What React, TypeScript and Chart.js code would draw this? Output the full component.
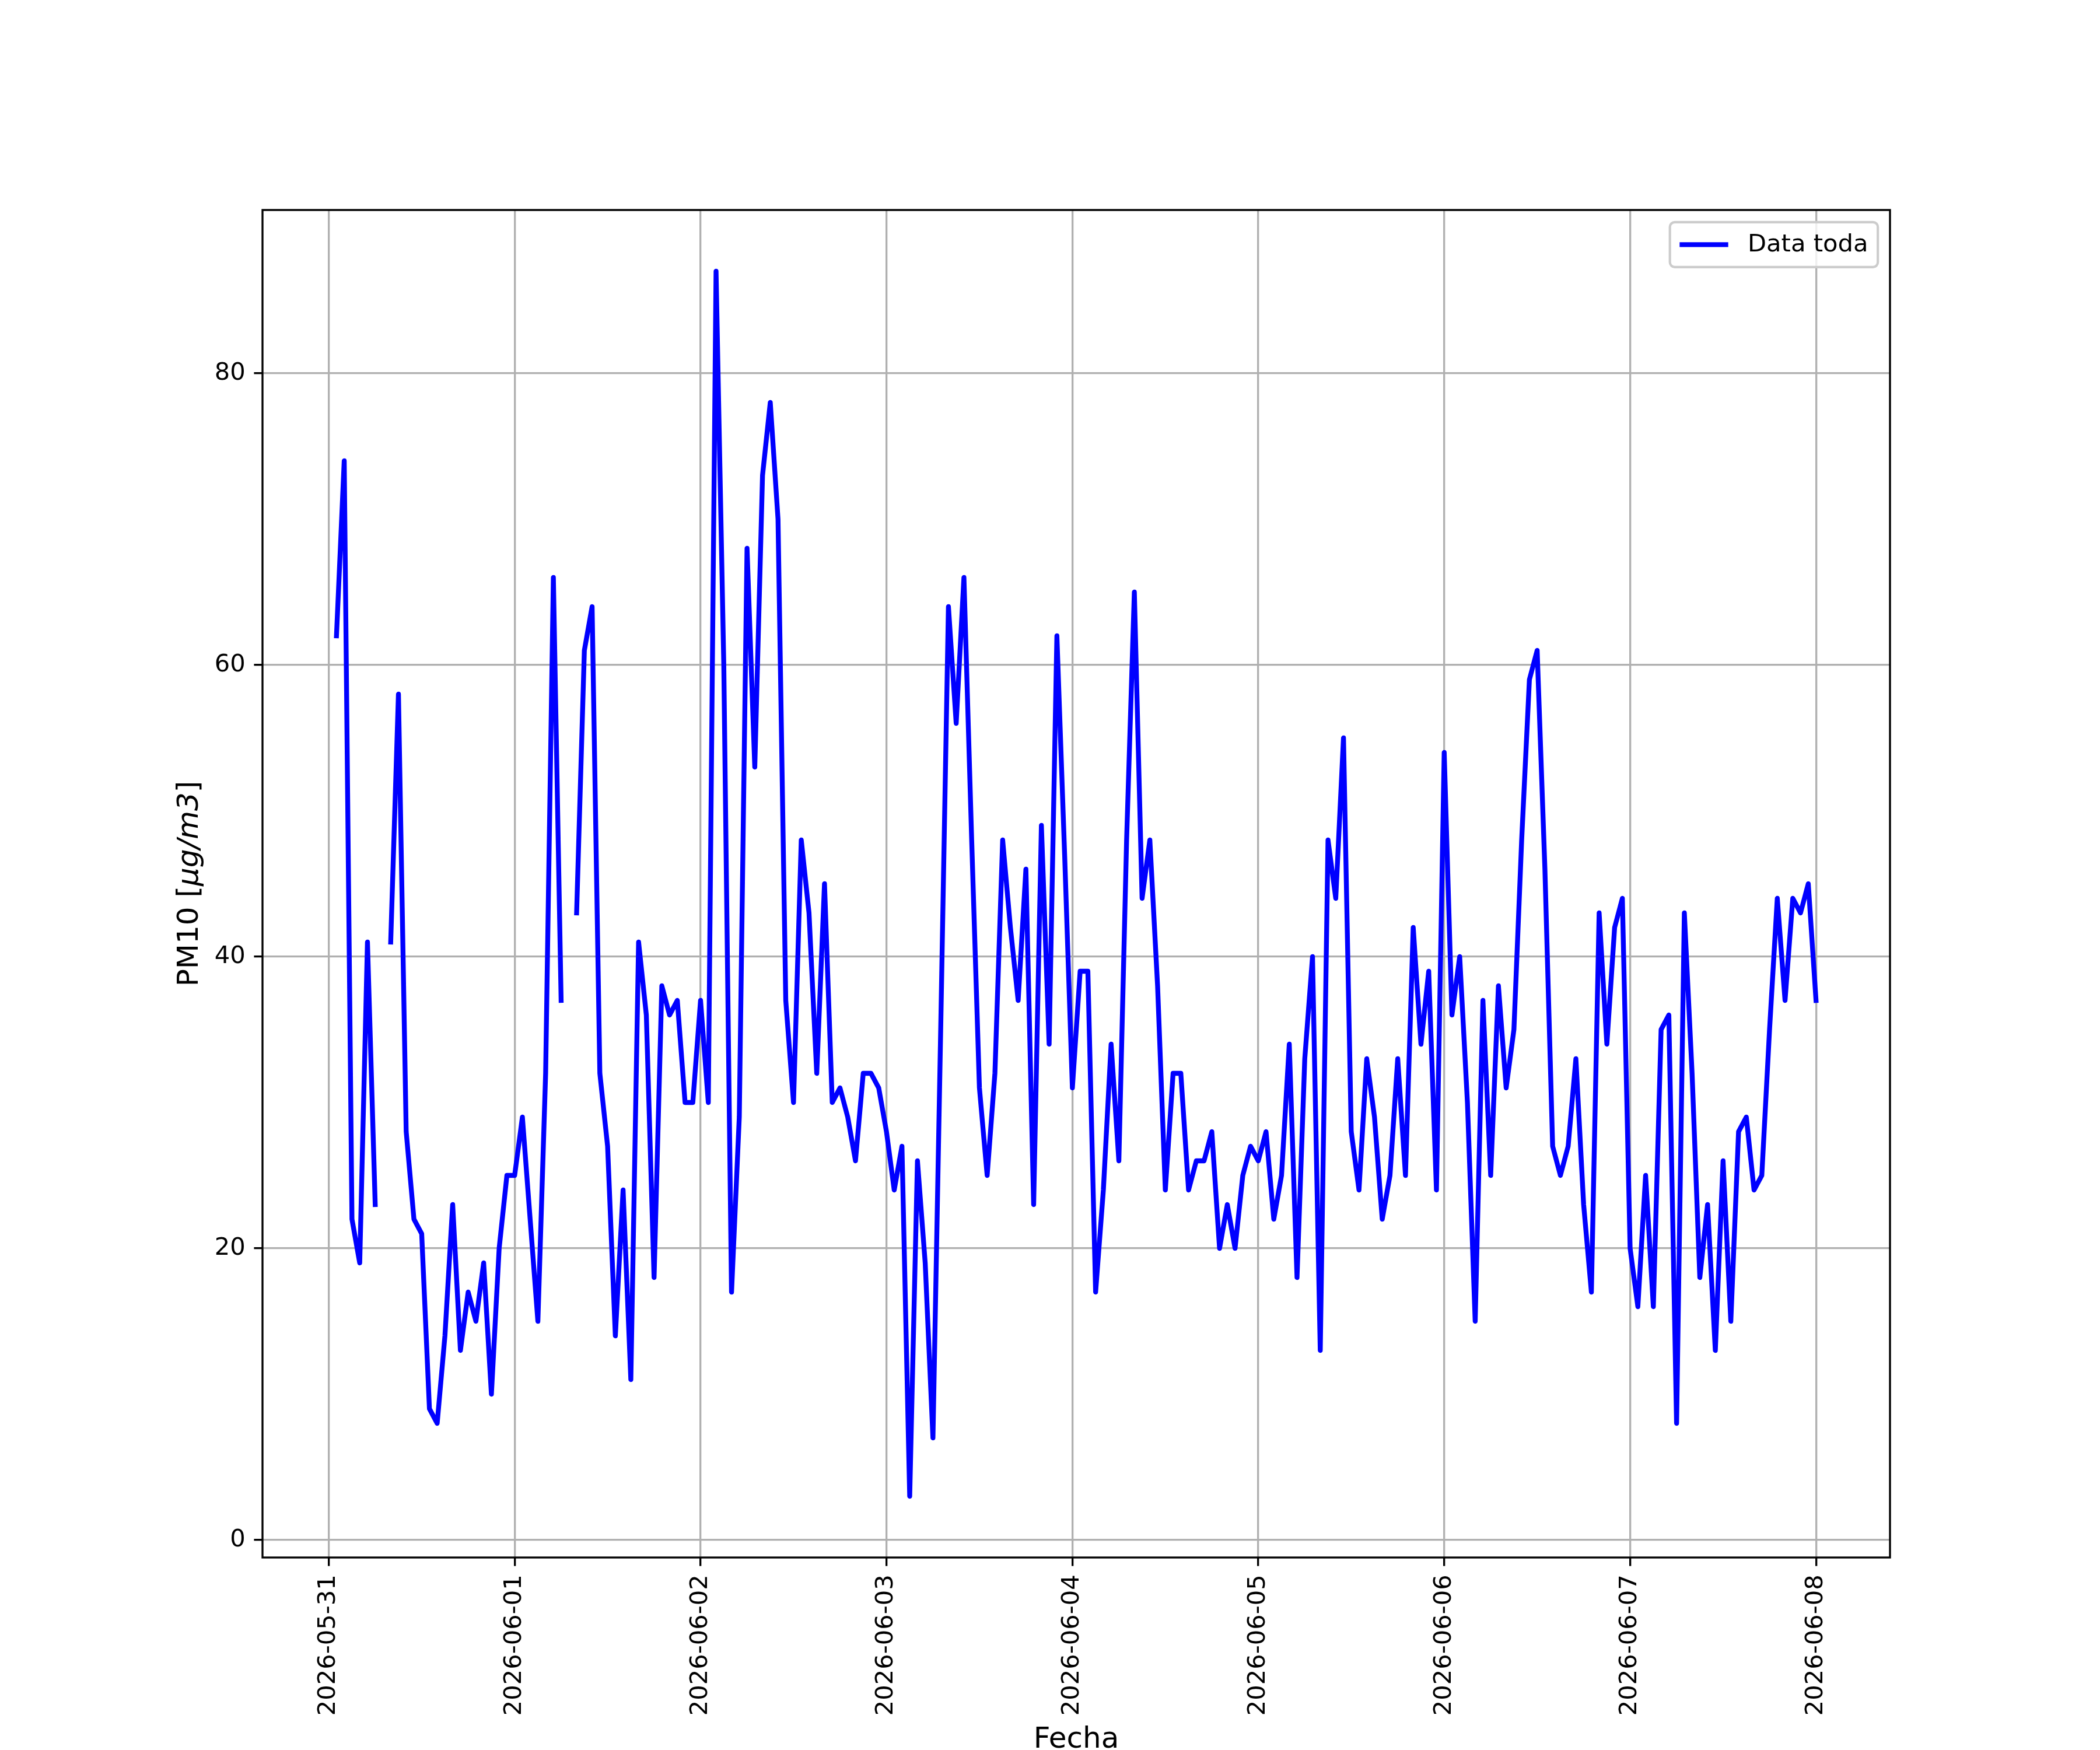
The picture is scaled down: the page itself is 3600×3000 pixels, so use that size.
import React, { useEffect, useRef } from "react";
import { Chart, registerables } from "chart.js";

Chart.register(...registerables);

// hourly PM10 readings, from 2026-05-31 01:00 to 2026-06-08 00:00 (null = missing)
const pm10 = [
  62, 74, 22, 19, 41, 23, null, 41, 58, 28, 22, 21, 9, 8, 14, 23, 13, 17, 15, 19, 10, 20, 25, 25,
  29, 22, 15, 32, 66, 37, null, 43, 61, 64, 32, 27, 14, 24, 11, 41, 36, 18, 38, 36, 37, 30, 30, 37,
  30, 87, 60, 17, 29, 68, 53, 73, 78, 70, 37, 30, 48, 43, 32, 45, 30, 31, 29, 26, 32, 32, 31, 28,
  24, 27, 3, 26, 19, 7, 35, 64, 56, 66, 48, 31, 25, 32, 48, 42, 37, 46, 23, 49, 34, 62, 47, 31,
  39, 39, 17, 24, 34, 26, 48, 65, 44, 48, 38, 24, 32, 32, 24, 26, 26, 28, 20, 23, 20, 25, 27, 26,
  28, 22, 25, 34, 18, 33, 40, 13, 48, 44, 55, 28, 24, 33, 29, 22, 25, 33, 25, 42, 34, 39, 24, 54,
  36, 40, 30, 15, 37, 25, 38, 31, 35, 48, 59, 61, 46, 27, 25, 27, 33, 23, 17, 43, 34, 42, 44, 20,
  16, 25, 16, 35, 36, 8, 43, 32, 18, 23, 13, 26, 15, 28, 29, 24, 25, 35, 44, 37, 44, 43, 45, 37,
];

const dayLabels = [
  "2026-05-31",
  "2026-06-01",
  "2026-06-02",
  "2026-06-03",
  "2026-06-04",
  "2026-06-05",
  "2026-06-06",
  "2026-06-07",
  "2026-06-08",
];
const yTicks = [0, 20, 40, 60, 80];

const seriesName = "Data toda";
const xTitle = "Fecha";
const yTitle = ["PM10 [", "\u03bcg/m3", "]"];

const W = 3600;
const H = 3000;
const PT = 300 / 72;
const FS = 10 * PT;
const LABEL_FS = 12 * PT;
const FAMILY = '"DejaVu Sans", "Liberation Sans", sans-serif';
const AREA = { left: 450, top: 360, right: 3240, bottom: 2670 };

const overlay = {
  id: "overlay",
  afterDatasetsDraw(chart) {
    const { ctx, chartArea: a } = chart;
    ctx.save();
    ctx.strokeStyle = "#000";
    ctx.lineWidth = 0.8 * PT;
    ctx.lineJoin = "miter";
    ctx.strokeRect(a.left, a.top, a.right - a.left, a.bottom - a.top);
    ctx.restore();
  },
  afterDraw(chart) {
    const { ctx, chartArea: a } = chart;
    ctx.save();

    // legend, upper right
    ctx.font = `${FS}px ${FAMILY}`;
    const textW = ctx.measureText(seriesName).width;
    const pad = 0.4 * FS;
    const boxW = pad + 2 * FS + 0.8 * FS + textW + pad;
    const boxH = 1.85 * FS;
    const bx = a.right - 0.5 * FS - boxW;
    const by = a.top + 0.5 * FS;
    ctx.beginPath();
    ctx.roundRect(bx, by, boxW, boxH, 0.2 * FS);
    ctx.fillStyle = "rgba(255,255,255,0.8)";
    ctx.fill();
    ctx.strokeStyle = "#cccccc";
    ctx.lineWidth = 1.0 * PT;
    ctx.stroke();
    const cy = by + boxH / 2;
    ctx.beginPath();
    ctx.moveTo(bx + pad, cy);
    ctx.lineTo(bx + pad + 2 * FS, cy);
    ctx.strokeStyle = "#0000ff";
    ctx.lineWidth = 2 * PT;
    ctx.stroke();
    ctx.fillStyle = "#000";
    ctx.textBaseline = "middle";
    ctx.textAlign = "left";
    ctx.fillText(seriesName, bx + pad + 2.8 * FS, cy + 1);

    // x axis title
    ctx.font = `${LABEL_FS}px ${FAMILY}`;
    ctx.textAlign = "center";
    ctx.textBaseline = "alphabetic";
    ctx.fillText(xTitle, (a.left + a.right) / 2, 2996);

    // y axis title, mixed upright / italic
    const fonts = [
      `${LABEL_FS}px ${FAMILY}`,
      `italic ${LABEL_FS}px ${FAMILY}`,
      `${LABEL_FS}px ${FAMILY}`,
    ];
    const widths = yTitle.map((s, i) => {
      ctx.font = fonts[i];
      return ctx.measureText(s).width;
    });
    const total = widths.reduce((s, w) => s + w, 0);
    ctx.translate(339, (a.top + a.bottom) / 2);
    ctx.rotate(-Math.PI / 2);
    ctx.textAlign = "left";
    let x = -total / 2;
    yTitle.forEach((s, i) => {
      ctx.font = fonts[i];
      ctx.fillText(s, x, 0);
      x += widths[i];
    });
    ctx.restore();
  },
};

const App = () => {
  const chartRef = useRef(null);

  useEffect(() => {
    const ctx = chartRef.current.getContext("2d");
    const points = pm10.map((v, i) => ({ x: i + 1, y: v }));
    const xSpan = pm10.length - 1;
    const vals = pm10.filter((v) => v !== null);
    const yLo = Math.min(...vals);
    const yHi = Math.max(...vals);
    const ySpan = yHi - yLo;

    const gridOpts = {
      color: "#b0b0b0",
      lineWidth: 0.8 * PT,
      tickLength: 3.5 * PT,
      tickColor: "#000",
      tickWidth: 0.8 * PT,
    };
    const tickFont = { family: FAMILY, size: FS };

    const chart = new Chart(ctx, {
      type: "line",
      data: {
        datasets: [
          {
            label: seriesName,
            data: points,
            borderColor: "#0000ff",
            borderWidth: 2 * PT,
            pointRadius: 0,
            tension: 0,
            spanGaps: false,
            borderJoinStyle: "round",
            borderCapStyle: "square",
          },
        ],
      },
      options: {
        animation: false,
        responsive: false,
        devicePixelRatio: 1,
        layout: { padding: { left: 0, top: AREA.top, right: W - AREA.right, bottom: 0 } },
        plugins: {
          legend: { display: false },
          tooltip: { enabled: false },
        },
        scales: {
          x: {
            type: "linear",
            min: 1 - 0.05 * xSpan,
            max: pm10.length + 0.05 * xSpan,
            afterBuildTicks: (scale) => {
              scale.ticks = dayLabels.map((_, i) => ({ value: i * 24 }));
            },
            afterFit: (scale) => {
              scale.height = H - AREA.bottom;
            },
            ticks: {
              autoSkip: false,
              maxRotation: 90,
              minRotation: 90,
              padding: 3.5 * PT,
              color: "#000",
              font: tickFont,
              callback: (v) => dayLabels[Math.round(v / 24)],
            },
            grid: gridOpts,
            border: { display: false },
          },
          y: {
            type: "linear",
            min: yLo - 0.05 * ySpan,
            max: yHi + 0.05 * ySpan,
            afterBuildTicks: (scale) => {
              scale.ticks = yTicks.map((v) => ({ value: v }));
            },
            afterFit: (scale) => {
              scale.width = AREA.left;
            },
            ticks: {
              padding: 3.5 * PT,
              color: "#000",
              font: tickFont,
              callback: (v) => String(v),
            },
            grid: gridOpts,
            border: { display: false },
          },
        },
      },
      plugins: [overlay],
    });

    return () => {
      chart.destroy();
    };
  }, []);

  return (
    <div style={{ position: "absolute", left: 0, top: 0, width: W, height: H, background: "#fff" }}>
      <canvas ref={chartRef} width={W} height={H} />
    </div>
  );
};

export default App;
